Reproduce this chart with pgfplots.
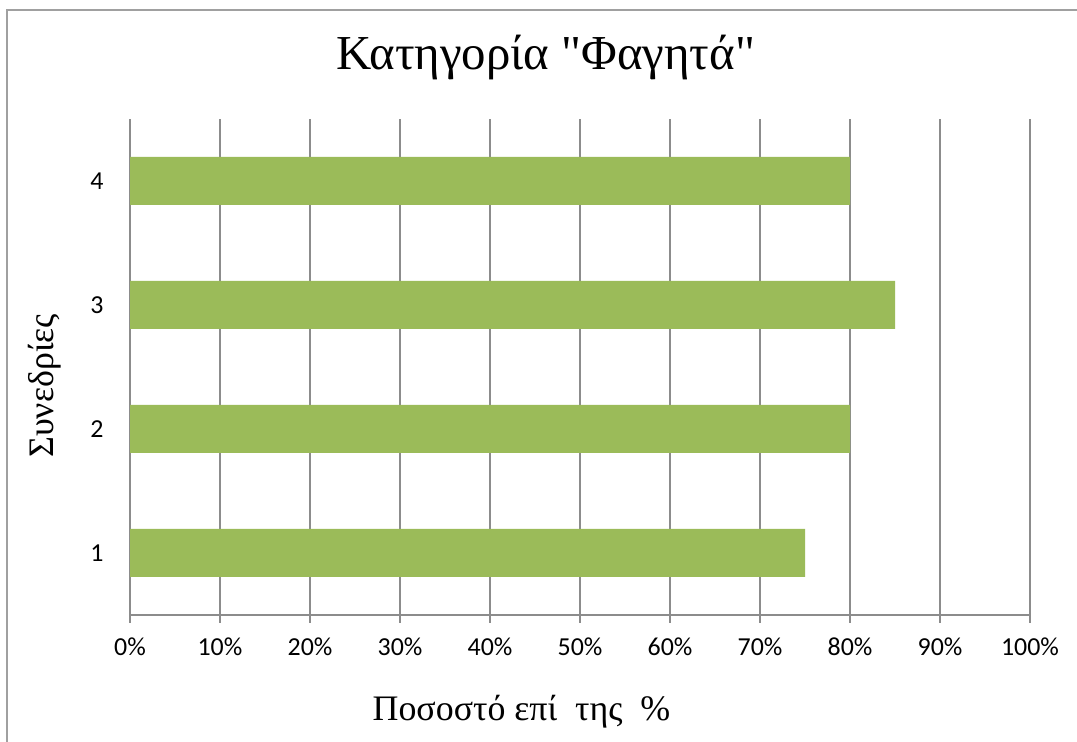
\documentclass[border=0pt]{standalone}
\usepackage{fontspec}
\setmainfont{Liberation Serif}
\newfontfamily\plainserif{Liberation Serif}
\newfontfamily\carlito{Carlito}
\usepackage{pgfplots}
\pgfplotsset{compat=1.18}
\definecolor{bargreen}{HTML}{9BBB59}
\definecolor{gridgray}{HTML}{8C8C8C}
\definecolor{framegray}{HTML}{A0A0A0}
\begin{document}
\begin{tikzpicture}[x=1bp,y=1bp]
\path[use as bounding box] (0,0) rectangle (1077,742);
\draw[framegray, line width=2bp] (7,0) -- (7,732) -- (1077,732);
\begin{axis}[
  at={(130bp,127bp)}, anchor=south west,
  scale only axis, width=900bp, height=496bp,
  xbar, bar width=48bp,
  xmin=0, xmax=100, ymin=0.5, ymax=4.5,
  xtick={0,10,...,100},
  xticklabel={\pgfmathprintnumber{\tick}\%},
  ytick={1,2,3,4},
  /pgf/number format/assume math mode=true,
  ticklabel style={font=\carlito\fontsize{26}{26}\selectfont},
  xmajorgrids, grid style={gridgray, line width=1.5bp},
  axis x line*=bottom, axis y line*=left,
  axis line style={gridgray, line width=1.5bp},
  x axis line style={-}, y axis line style={-},
  xtick style={gridgray, line width=1.5bp},
  ytick style={draw=none},
  tick align=outside, major tick length=8bp,
  x tick label style={yshift=-11bp},
  y tick label style={xshift=-15bp},
  title={{\plainserif Κατηγορία "Φαγητά"}},
  title style={font=\fontsize{49}{49}\selectfont, at={(axis description cs:0.4617,1.0887)}, anchor=base},
  xlabel={Ποσοστό επί\ \ της\ \ \%},
  xlabel style={font=\fontsize{36}{36}\selectfont, at={(axis description cs:0.435,-0.2137)}, anchor=base},
  ylabel={Συνεδρίες},
  ylabel style={font=\fontsize{36}{36}\selectfont, at={(axis description cs:-0.0944,0.462)}, anchor=center, rotate=0},
]
\addplot[fill=bargreen, draw=none] coordinates {(75,1) (80,2) (85,3) (80,4)};
\end{axis}
\end{tikzpicture}
\end{document}
